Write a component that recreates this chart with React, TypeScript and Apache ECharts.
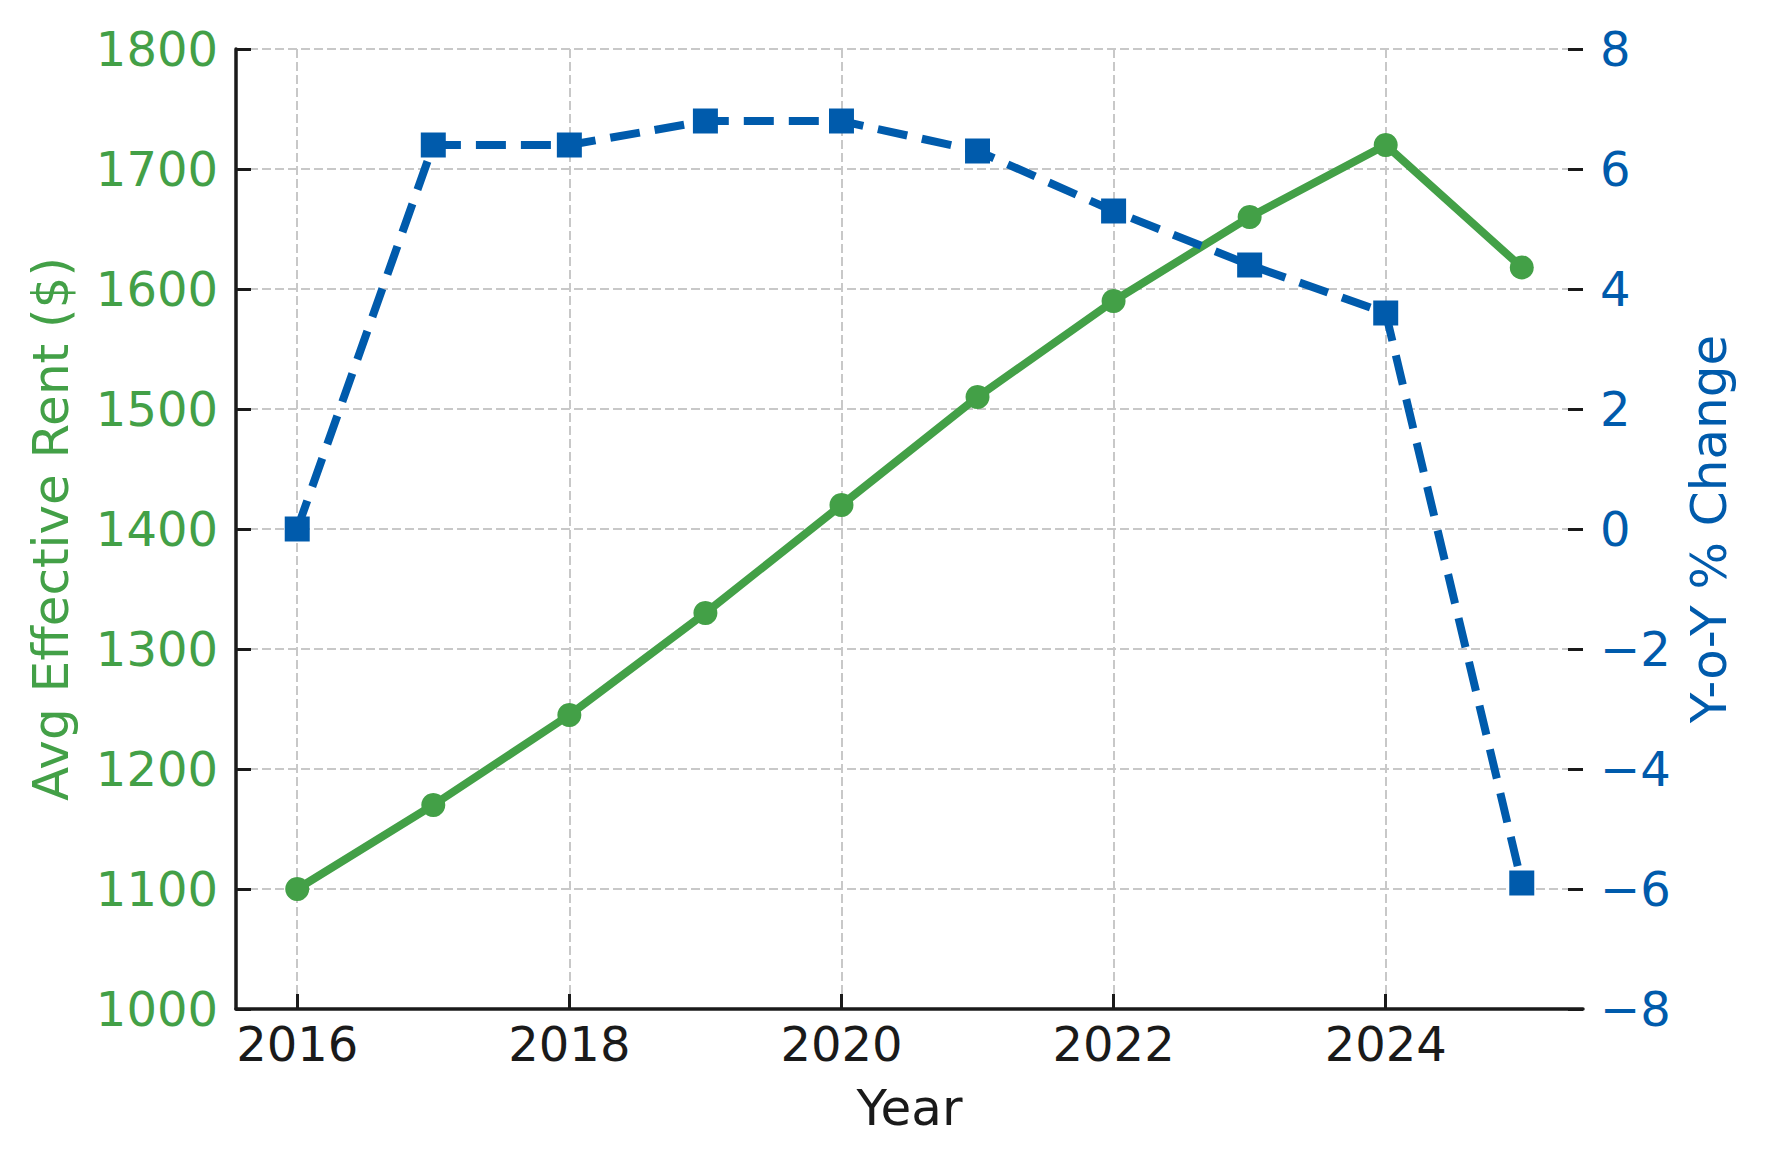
import React, { useEffect, useRef } from 'react';
import * as echarts from 'echarts';

const years = [2016, 2017, 2018, 2019, 2020, 2021, 2022, 2023, 2024, 2025];
const avgRent = [1100, 1170, 1245, 1330, 1420, 1510, 1590, 1660, 1720, 1618];
const yoyChange = [0, 6.4, 6.4, 6.8, 6.8, 6.3, 5.3, 4.4, 3.6, -5.9];
const yearTicks = [2016, 2018, 2020, 2022, 2024];

const GREEN = '#43a047';
const BLUE = '#005bac';
const INK = '#1a1a1a';
const FONT = 'DejaVu Sans';

export default function App() {
  const chartRef = useRef<HTMLDivElement>(null);

  useEffect(() => {
    document.body.style.margin = '0';
    if (!chartRef.current) return;

    const chart = echarts.init(chartRef.current, null, { renderer: 'svg' });

    const gridLine = {
      show: true,
      lineStyle: { color: '#c8c8c8', width: 2, type: [9, 4] as any },
    };

    chart.setOption({
      animation: false,
      backgroundColor: '#ffffff',
      textStyle: { fontFamily: FONT },
      grid: { left: 236, right: 183, top: 49, bottom: 157 },
      xAxis: {
        type: 'value',
        min: 2015.55,
        max: 2025.45,
        name: 'Year',
        nameLocation: 'middle',
        nameGap: 74,
        nameTextStyle: { color: INK, fontSize: 50, fontFamily: FONT },
        axisLine: { show: true, onZero: false, lineStyle: { color: INK, width: 3.5 } },
        axisTick: { show: true, inside: true, length: 15, customValues: yearTicks, lineStyle: { color: INK, width: 3 } },
        axisLabel: {
          customValues: yearTicks,
          color: INK,
          fontSize: 48,
          fontFamily: FONT,
          margin: 11,
          formatter: (v: number) => String(v),
        },
        splitLine: gridLine,
      },
      yAxis: [
        {
          type: 'value',
          position: 'left',
          min: 1000,
          max: 1800,
          interval: 100,
          name: 'Avg Effective Rent ($)',
          nameLocation: 'middle',
          nameGap: 160,
          nameTextStyle: { color: GREEN, fontSize: 50, fontFamily: FONT },
          axisLine: { show: true, lineStyle: { color: INK, width: 3.5 } },
          axisTick: { show: true, inside: true, length: 15, lineStyle: { color: INK, width: 3 } },
          axisLabel: {
            color: GREEN,
            fontSize: 48,
            fontFamily: FONT,
            margin: 18,
            formatter: (v: number) => String(v),
          },
          splitLine: gridLine,
        },
        {
          type: 'value',
          position: 'right',
          min: -8,
          max: 8,
          interval: 2,
          name: 'Y-o-Y % Change',
          nameLocation: 'middle',
          nameRotate: 90,
          nameGap: 101,
          nameTextStyle: { color: BLUE, fontSize: 50, fontFamily: FONT },
          axisLine: { show: false },
          axisTick: { show: true, inside: true, length: 15, lineStyle: { color: INK, width: 3 } },
          axisLabel: {
            color: BLUE,
            fontSize: 48,
            fontFamily: FONT,
            margin: 17,
            formatter: (v: number) => String(v).replace('-', '\u2212'),
          },
          splitLine: { show: false },
        },
      ],
      series: [
        {
          name: 'Avg Effective Rent',
          type: 'line',
          yAxisIndex: 0,
          data: years.map((y, i) => [y, avgRent[i]]),
          symbol: 'circle',
          symbolSize: 24,
          lineStyle: { color: GREEN, width: 8 },
          itemStyle: { color: GREEN },
          z: 2,
        },
        {
          name: 'Y-o-Y % Change',
          type: 'line',
          yAxisIndex: 1,
          data: years.map((y, i) => [y, yoyChange[i]]),
          symbol: 'rect',
          symbolSize: 25,
          lineStyle: { color: BLUE, width: 8, type: [30, 15] as any },
          itemStyle: { color: BLUE },
          z: 3,
        },
      ],
    });

    return () => {
      chart.dispose();
    };
  }, []);

  return <div ref={chartRef} style={{ width: 1766, height: 1166 }} />;
}
